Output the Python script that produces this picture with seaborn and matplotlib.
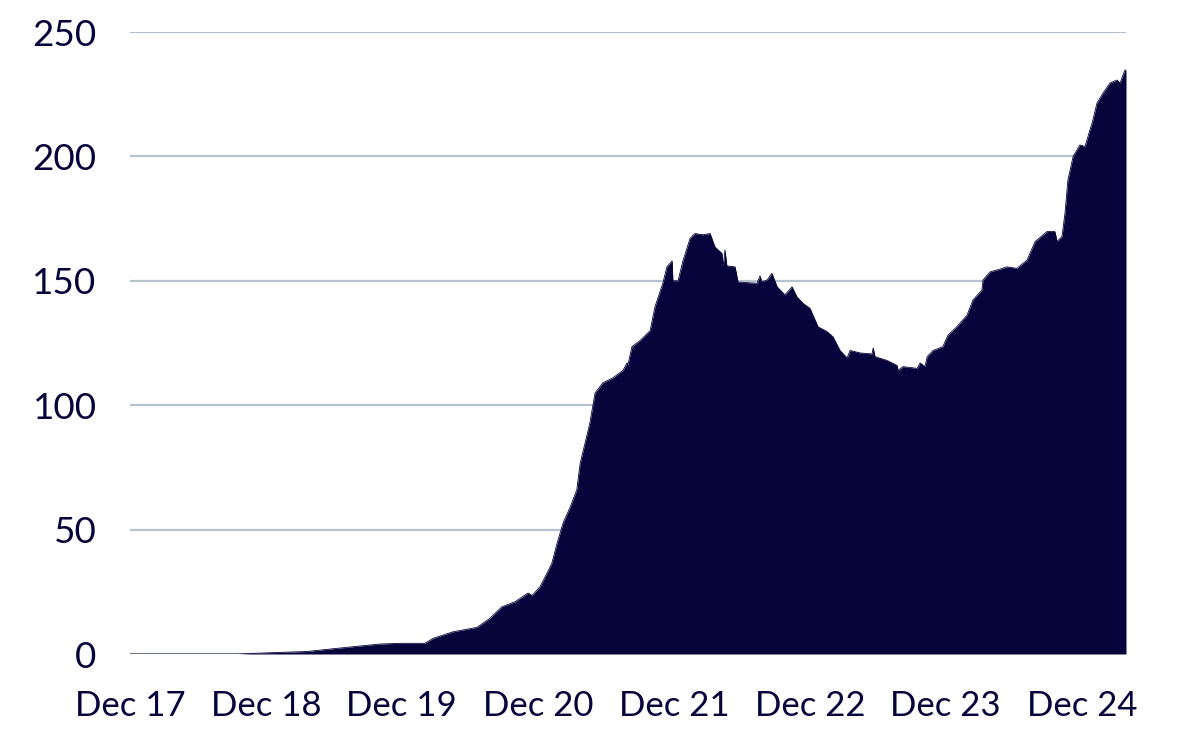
import pandas as pd
import matplotlib
matplotlib.use('Agg')
import matplotlib.pyplot as plt
import seaborn as sns

# values (irregular sampling along the curve)
dates = [
    '2017-12-01', '2018-09-17', '2018-12-12', '2019-03-21', '2019-06-18', '2019-10-03',
    '2019-11-26', '2020-02-01', '2020-02-23', '2020-04-16', '2020-06-20', '2020-07-25',
    '2020-08-26', '2020-09-30', '2020-11-04', '2020-11-15', '2020-12-06', '2020-12-25',
    '2021-01-07', '2021-01-21', '2021-02-06', '2021-02-25', '2021-03-15', '2021-03-24',
    '2021-04-06', '2021-04-19', '2021-05-03', '2021-05-24', '2021-06-20', '2021-07-17',
    '2021-07-28', '2021-07-30', '2021-08-10', '2021-09-01', '2021-09-28', '2021-10-11',
    '2021-11-01', '2021-11-12', '2021-11-26', '2021-11-28', '2021-12-12', '2021-12-25',
    '2022-01-13', '2022-01-26', '2022-02-17', '2022-03-08', '2022-03-21', '2022-04-09',
    '2022-04-12', '2022-04-17', '2022-04-22', '2022-05-14', '2022-05-22', '2022-07-12',
    '2022-07-20', '2022-07-25', '2022-08-08', '2022-08-21', '2022-09-04', '2022-09-25',
    '2022-10-14', '2022-10-27', '2022-11-12', '2022-12-01', '2022-12-23', '2023-01-16',
    '2023-02-01', '2023-02-20', '2023-03-11', '2023-03-19', '2023-04-15', '2023-05-17',
    '2023-05-20', '2023-05-25', '2023-06-26', '2023-07-23', '2023-07-26', '2023-08-08',
    '2023-09-15', '2023-09-23', '2023-10-06', '2023-10-12', '2023-10-28', '2023-11-23',
    '2023-12-07', '2023-12-31', '2024-01-27', '2024-02-12', '2024-03-07', '2024-03-10',
    '2024-03-29', '2024-04-25', '2024-05-13', '2024-06-09', '2024-07-06', '2024-07-28',
    '2024-08-29', '2024-09-19', '2024-09-25', '2024-10-08', '2024-10-16', '2024-10-24',
    '2024-11-07', '2024-11-25', '2024-12-09', '2024-12-22', '2024-12-28', '2025-01-10',
    '2025-01-26', '2025-02-14', '2025-03-05', '2025-03-13', '2025-03-26', '2025-03-29',
]
values = [
    0.0, 0.0, 0.5, 1.0, 2.4, 4.0,
    4.3, 4.3, 6.3, 8.9, 10.7, 14.4,
    19.0, 21.0, 24.5, 23.5, 27.0, 32.5,
    36.5, 44.5, 52.6, 59.0, 66.0, 76.7,
    84.7, 92.8, 104.9, 109.0, 111.0, 114.0,
    117.0, 116.0, 123.5, 126.0, 130.0, 139.6,
    149.0, 155.6, 158.0, 150.0, 150.0, 158.0,
    167.0, 169.0, 168.5, 169.0, 163.6, 161.0,
    155.6, 162.4, 156.0, 155.6, 149.5, 149.0,
    152.0, 149.6, 150.3, 153.0, 147.6, 144.3,
    147.6, 143.6, 141.0, 139.0, 131.5, 129.6,
    127.5, 122.0, 119.0, 122.0, 121.0, 120.6,
    123.0, 119.5, 118.0, 116.0, 114.0, 115.5,
    114.8, 117.0, 115.5, 119.5, 122.0, 123.5,
    128.2, 131.6, 136.2, 142.3, 146.3, 150.3,
    153.6, 154.7, 155.6, 155.0, 158.3, 165.8,
    169.8, 169.8, 165.8, 167.8, 177.0, 190.5,
    200.0, 204.6, 204.0, 210.6, 213.4, 221.4,
    225.4, 229.5, 230.7, 229.5, 234.7, 234.7,
]

tick_dates = ['2017-12-01', '2018-12-01', '2019-12-01', '2020-12-01',
              '2021-12-01', '2022-12-01', '2023-12-01', '2024-12-01']
tick_labels = ['Dec 17', 'Dec 18', 'Dec 19', 'Dec 20',
               'Dec 21', 'Dec 22', 'Dec 23', 'Dec 24']
y_ticks = [0, 50, 100, 150, 200, 250]

navy = '#06043A'
grid_color = '#B7C3CF'

df = pd.DataFrame({'date': pd.to_datetime(dates), 'value': values})

sns.set_theme(style='white')
plt.rcParams['font.family'] = ['Lato', 'DejaVu Sans']

fig = plt.figure(figsize=(12, 7.42), dpi=100)
ax = fig.add_axes([130 / 1200, 1 - 654 / 742, 996 / 1200, 622 / 742])

# grid lines behind the area
for y in y_ticks:
    ax.axhline(y, color=grid_color, linewidth=1.6, zorder=0)

sns.lineplot(data=df, x='date', y='value', color=navy, linewidth=0.6, ax=ax, zorder=2)
ax.fill_between(df['date'], df['value'], color=navy, linewidth=0, zorder=2)

ax.set_xlim(pd.Timestamp(dates[0]), pd.Timestamp(dates[-1]))
ax.set_ylim(0, 250)
ax.set_yticks(y_ticks)
ax.set_yticklabels([str(v) for v in y_ticks])
ax.set_xticks(pd.to_datetime(tick_dates))
ax.set_xticklabels(tick_labels)
ax.set_xlabel('')
ax.set_ylabel('')

for s in ax.spines.values():
    s.set_visible(False)
ax.tick_params(axis='y', length=0, pad=24, labelsize=26.5, labelcolor=navy)
ax.tick_params(axis='x', length=0, pad=26, labelsize=25, labelcolor=navy)

fig.savefig('out.png', dpi=100)
